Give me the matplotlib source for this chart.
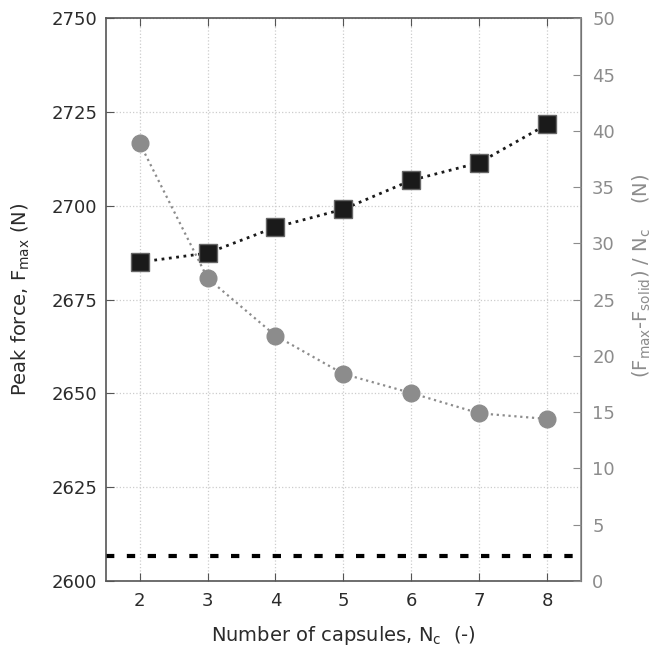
import numpy as np
import matplotlib.pyplot as plt

# data
n_caps = [2, 3, 4, 5, 6, 7, 8]
peak_force = [2685.0, 2687.4, 2694.3, 2699.1, 2706.8, 2711.5, 2721.7]
gain_per_caps = [38.9, 26.9, 21.8, 18.4, 16.7, 14.9, 14.4]
f_solid = 2606.7

DARK = '#2b2b2b'
GREY = '#8c8c8c'

plt.rcParams['font.family'] = 'DejaVu Sans'
plt.rcParams['font.size'] = 13

fig = plt.figure(figsize=(6.61, 6.51), dpi=100)
ax = fig.add_axes([0.160, 0.1075, 0.719, 0.8645])
ax2 = ax.twinx()

ax.set_xlim(1.5, 8.5)
ax.set_ylim(2600, 2750)
ax2.set_ylim(0, 50)

ax.set_xticks(n_caps)
ax.set_yticks(np.arange(2600, 2751, 25))
ax2.set_yticks(np.arange(0, 51, 5))

ax.grid(True, color='#cccccc', linestyle=':', linewidth=0.9)
ax.set_axisbelow(True)

# solid reference level
ax.axhline(f_solid, color='black', linestyle=(0, (2, 3)), linewidth=3)

ax.plot(n_caps, peak_force, linestyle=':', color='#1a1a1a', linewidth=2,
        marker='s', markersize=12.5, markerfacecolor='#1a1a1a',
        markeredgecolor='#666666', markeredgewidth=1, zorder=5)
ax2.plot(n_caps, gain_per_caps, linestyle=':', color=GREY, linewidth=1.6,
         marker='o', markersize=12, markerfacecolor=GREY,
         markeredgecolor=GREY, zorder=5)

ax.tick_params(axis='both', direction='in', length=6, color='#555555',
               labelcolor=DARK, top=True, right=False)
ax.tick_params(axis='x', pad=8)
ax.tick_params(axis='y', pad=6)
ax2.tick_params(axis='y', direction='in', length=6, color=GREY,
                labelcolor=GREY, pad=8)

for s in ['left', 'top', 'bottom']:
    ax.spines[s].set_color('#555555')
    ax.spines[s].set_linewidth(1.2)
ax2.spines['right'].set_color(GREY)
ax2.spines['right'].set_linewidth(1.2)
for s in ['left', 'top', 'bottom']:
    ax2.spines[s].set_visible(False)

ax.set_xlabel(r'Number of capsules, N$_\mathregular{c}$  (-)', fontsize=14,
              color=DARK, labelpad=10)
ax.set_ylabel(r'Peak force, F$_\mathregular{max}$ (N)', fontsize=14,
              color=DARK, labelpad=14)
ax2.set_ylabel(r'(F$_\mathregular{max}$-F$_\mathregular{solid}$) / N$_\mathregular{c}$    (N)',
               fontsize=14, color=GREY)
ax2.yaxis.set_label_coords(1.105, 0.543)

fig.savefig('out.png', dpi=100)
